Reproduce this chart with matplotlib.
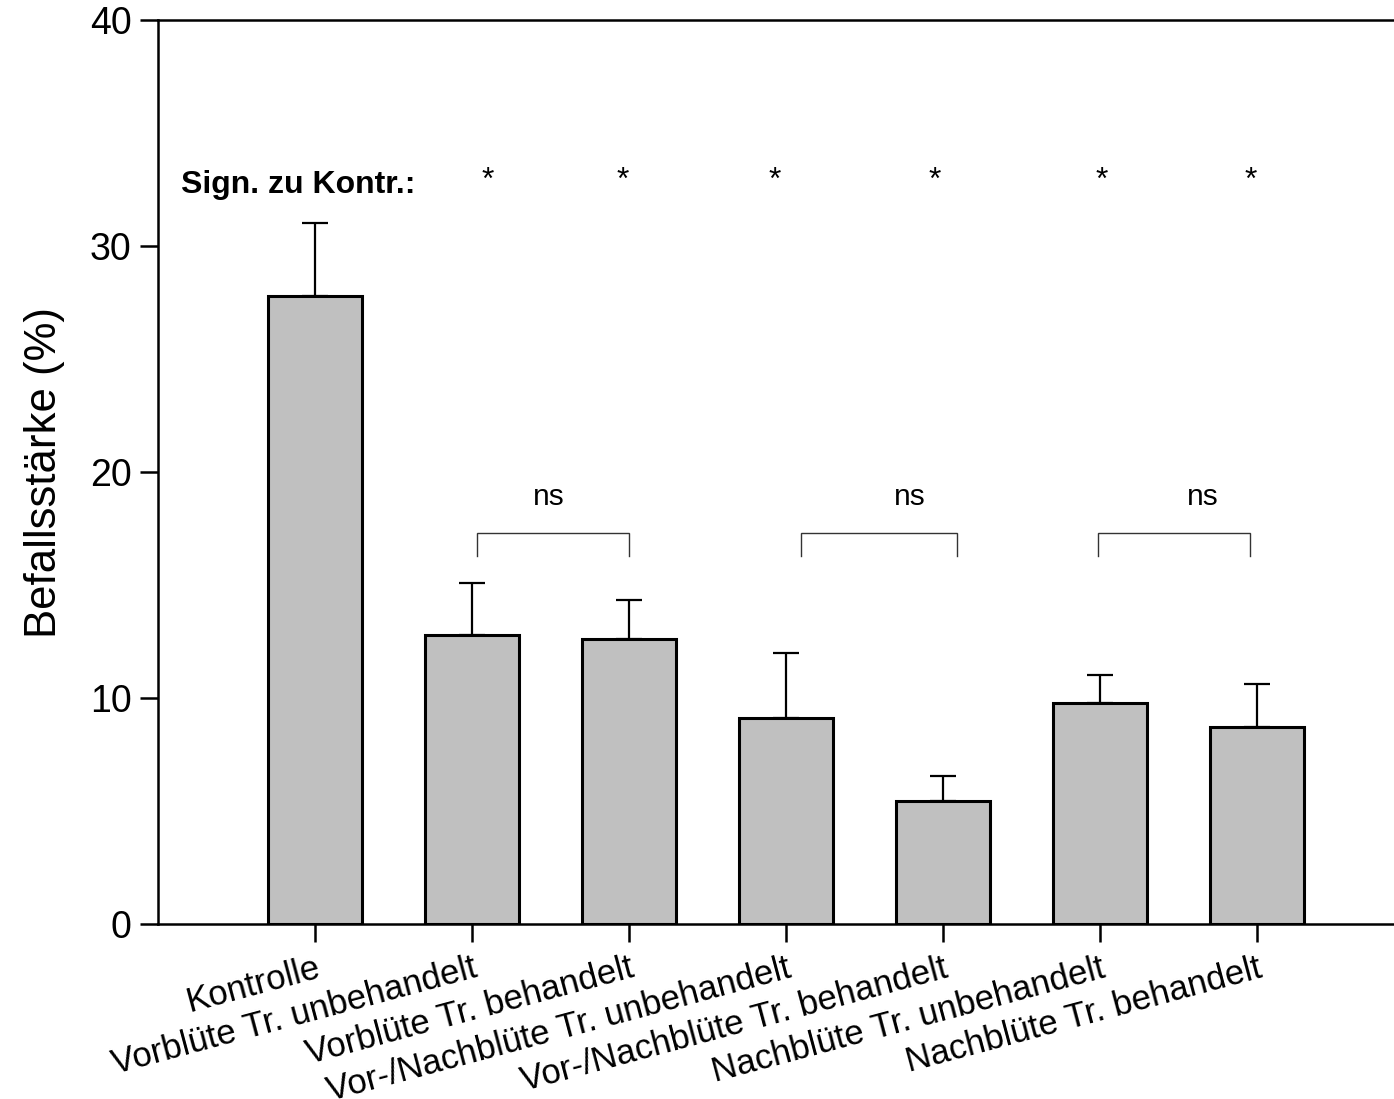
import matplotlib
matplotlib.use("Agg")
import matplotlib.pyplot as plt

plt.rcParams['font.family'] = ['Liberation Sans', 'DejaVu Sans']

# Data
categories = ["Kontrolle", "Vorblüte Tr. unbehandelt", "Vorblüte Tr. behandelt",
              "Vor-/Nachblüte Tr. unbehandelt", "Vor-/Nachblüte Tr. behandelt",
              "Nachblüte Tr. unbehandelt", "Nachblüte Tr. behandelt"]
means = [27.8, 12.8, 12.6, 9.1, 5.45, 9.8, 8.7]
sem = [3.2, 2.3, 1.75, 2.9, 1.1, 1.2, 1.9]
signif_marks = ["*", "*", "*", "*", "*", "*"]
ns_pairs = [(2, 3), (4, 5), (6, 7)]

fig = plt.figure(figsize=(13.94, 10.99), dpi=100)
ax = fig.add_axes([0.1133, 0.1592, 0.8867, 0.8226])

x = list(range(1, len(categories) + 1))
ax.bar(x, means, width=0.6, color="#c0c0c0", edgecolor="black", linewidth=2.2, zorder=2)
ax.errorbar(x, means, yerr=[[0] * len(sem), sem], fmt="none", ecolor="black",
            elinewidth=1.6, capsize=9.5, capthick=1.6, zorder=1)

ax.set_xlim(0, 7.875)
ax.set_ylim(0, 40)
ax.set_yticks([0, 10, 20, 30, 40])
ax.set_xticks(x)
ax.set_xticklabels(categories, rotation=15, ha="right", rotation_mode="anchor", fontsize=25)
ax.tick_params(axis="y", labelsize=27, length=13, width=1.8, direction="out", pad=6)
ax.tick_params(axis="x", length=13, width=1.8, direction="out", pad=7)
ax.set_ylabel("Befallsstärke (%)", fontsize=31.5, labelpad=18)

for side in ["left", "bottom", "top"]:
    ax.spines[side].set_linewidth(1.8)
ax.spines["right"].set_visible(False)

# Significance versus control
ax.text(0.15, 32.7, "Sign. zu Kontr.:", fontsize=23, fontweight="bold", ha="left", va="center")
star_x = [2.10, 2.96, 3.93, 4.95, 6.01, 6.96]
for sx, m in zip(star_x, signif_marks):
    ax.text(sx, 32.9, m, fontsize=23, ha="center", va="center")

# Non-significant brackets between treated/untreated pairs
bracket_offsets = [(0.03, 0.0), (0.1, 0.09), (-0.01, -0.04)]
for (a, b), (oa, ob) in zip(ns_pairs, bracket_offsets):
    xa, xb = a + oa, b + ob
    ax.plot([xa, xa, xb, xb], [16.3, 17.3, 17.3, 16.3], color="#333333", linewidth=1.0,
            solid_joinstyle="miter")
ns_x = [2.49, 4.79, 6.66]
for nx in ns_x:
    ax.text(nx, 18.9, "ns", fontsize=21.5, ha="center", va="center")

fig.savefig("out.png", dpi=100)
